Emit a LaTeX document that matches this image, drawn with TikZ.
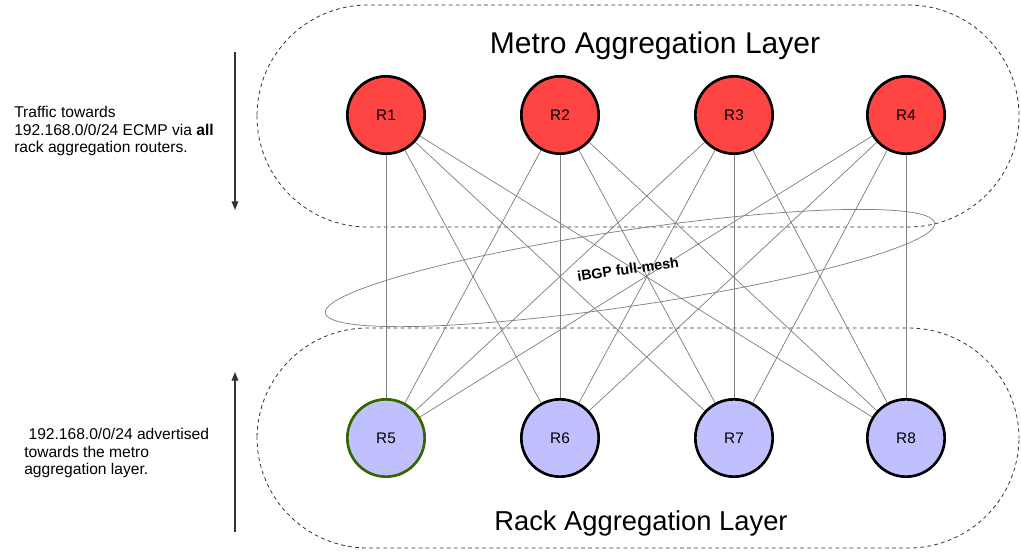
\documentclass[tikz,border=0pt]{standalone}
\usepackage{fontspec}
\setmainfont{Liberation Sans}
\usepackage{xcolor}
\definecolor{RouterRed}{HTML}{FF4444}
\definecolor{RouterBlue}{HTML}{C0C0FF}
\definecolor{BorderGreen}{HTML}{336600}
\usepackage{tikz}
\usetikzlibrary{arrows.meta, positioning}

\begin{document}
\begin{tikzpicture}[x=0.75pt, y=-0.75pt,
  router/.style={circle, draw=black, line width=2pt, minimum size=58pt, inner sep=0pt, font=\fontsize{11.5}{13}\selectfont},
  layer/.style={dash pattern=on 2.8pt off 2.5pt, draw=black!80, line width=0.6pt, rounded corners=83pt},
  link/.style={draw=black!50, line width=0.55pt},
  flow/.style={draw=black!80, line width=1pt, -{Triangle[length=6.5pt,width=5pt]}},
  note/.style={align=left, anchor=west, inner sep=0pt, font=\fontsize{11.7}{13.3}\selectfont}]
  \useasboundingbox (0,0) rectangle (1021,551);
  % layers
  \draw[layer] (257,5) rectangle (1019,227);
  \draw[layer] (257,328) rectangle (1019,548);
  \node[font=\fontsize{22.5}{26}\selectfont] (metrotitle) at (655,46) {Metro Aggregation Layer};
  \node[font=\fontsize{20.5}{24}\selectfont] (racktitle) at (641,523) {Rack Aggregation Layer};
  % routers
  \node[router, fill=RouterRed] (r1) at (386,115) {R1};
  \node[router, fill=RouterRed] (r2) at (560,115) {R2};
  \node[router, fill=RouterRed] (r3) at (734,115) {R3};
  \node[router, fill=RouterRed] (r4) at (906,115) {R4};
  \node[router, fill=RouterBlue, draw=BorderGreen] (r5) at (386,438) {R5};
  \node[router, fill=RouterBlue] (r6) at (560,438) {R6};
  \node[router, fill=RouterBlue] (r7) at (734,438) {R7};
  \node[router, fill=RouterBlue] (r8) at (906,438) {R8};
  % full mesh
  \foreach \t in {1,...,4}
    \foreach \b in {5,...,8}
      \draw[link] (r\t) -- (r\b);
  \draw[link, rotate around={8.4:(630,268)}] (630,268) ellipse [x radius=308, y radius=38];
  \node[font=\bfseries\fontsize{10.7}{12}\selectfont, rotate=8] (ibgp) at (628,269) {iBGP full-mesh};
  % traffic / advertisement
  \coordinate (downtail) at (235,52);
  \coordinate (downtip) at (235,210);
  \coordinate (uptail) at (235,532);
  \coordinate (uptip) at (235,372);
  \draw[flow] (downtail) -- (downtip);
  \draw[flow] (uptail) -- (uptip);
  \node[note] (trafficnote) at (14,131) {Traffic towards\\192.168.0/0/24 ECMP via \textbf{all}\\rack aggregation routers.};
  \node[note] (advertnote) at (24,453) {\ 192.168.0/0/24 advertised\\towards the metro\\aggregation layer.};
\end{tikzpicture}
\end{document}
